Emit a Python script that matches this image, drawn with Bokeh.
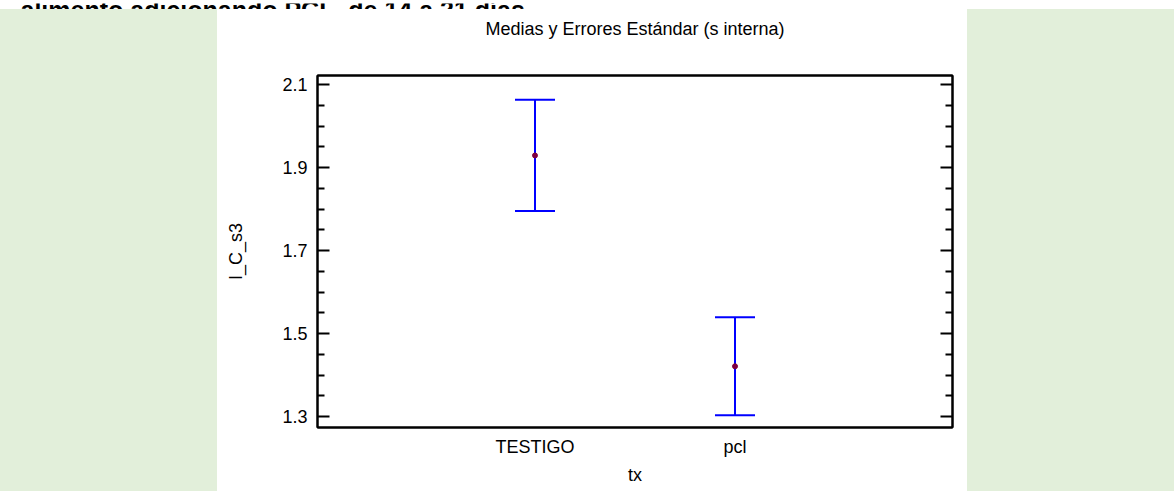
from bokeh.plotting import figure
from bokeh.layouts import row, column
from bokeh.models import (ColumnDataSource, Whisker, TeeHead, FixedTicker,
                          LinearAxis, Range1d, Div, Label,
                          CustomLabelingPolicy)
from bokeh.embed import file_html
from bokeh.resources import INLINE

# ---- data ----
categories = ["TESTIGO", "pcl"]
means = [1.929, 1.421]
std_errors = [0.134, 0.118]
y_ticks = [1.3, 1.5, 1.7, 1.9, 2.1]
y_minor_ticks = [1.35, 1.4, 1.45, 1.55, 1.6, 1.65, 1.75, 1.8, 1.85,
                 1.95, 2.0, 2.05]
title_text = "Medias y Errores Estándar (s interna)"
x_label = "tx"
y_label = "I_C_s3"
caption_text = "alimento adicionando PCL, de 14 a 21 días."

GREEN = "#E2EFDA"
FONT = "Liberation Sans"

xpos = list(range(1, len(categories) + 1))
src = ColumnDataSource(dict(
    x=xpos,
    mean=means,
    upper=[m + s for m, s in zip(means, std_errors)],
    lower=[m - s for m, s in zip(means, std_errors)],
))

H = 482

# cut-off caption strip on top (as in the reference screenshot)
strip = figure(width=1174, height=9, output_backend="svg",
               toolbar_location=None, min_border=0,
               x_axis_location=None, y_axis_location=None,
               background_fill_color="white", border_fill_color="white",
               outline_line_color=None)
strip.grid.visible = False
strip.add_layout(Label(x=20, y=3, x_units="screen", y_units="screen",
                       text=caption_text, text_font=FONT,
                       text_font_size="25px", text_font_style="bold",
                       text_color="black", text_baseline="alphabetic"))

left_panel = Div(width=217, height=H, margin=0,
                 styles={"background-color": GREEN})
right_panel = Div(width=207, height=H, margin=0,
                  styles={"background-color": GREEN})

p = figure(width=750, height=H, output_backend="svg", toolbar_location=None,
           x_range=Range1d(-0.0875, 3.0875), y_range=Range1d(1.2735, 2.1217),
           min_border_left=100, min_border_right=15, min_border_top=66,
           min_border_bottom=64,
           background_fill_color="white", border_fill_color="white",
           outline_line_color="black", outline_line_width=2)
p.grid.visible = False

yt = FixedTicker(ticks=y_ticks, minor_ticks=y_minor_ticks)

ya = p.yaxis[0]
ya.ticker = yt
ya.axis_label = y_label
ya.axis_label_text_font = FONT
ya.axis_label_text_font_size = "18px"
ya.axis_label_text_font_style = "normal"
ya.axis_label_text_color = "black"
ya.axis_label_standoff = 33
ya.major_label_text_font = FONT
ya.major_label_text_font_size = "18px"
ya.major_label_text_color = "black"
ya.major_label_standoff = 10
ya.axis_line_width = 2
ya.axis_line_color = "black"
ya.major_tick_in = 12
ya.major_tick_out = 0
ya.minor_tick_in = 7
ya.minor_tick_out = 0
ya.major_tick_line_width = 2
ya.minor_tick_line_width = 2

xa = p.xaxis[0]
xa.ticker = FixedTicker(ticks=xpos)
xa.major_label_overrides = {x: c for x, c in zip(xpos, categories)}
xa.axis_label = x_label
xa.axis_label_text_font = FONT
xa.axis_label_text_font_size = "18px"
xa.axis_label_text_font_style = "normal"
xa.axis_label_text_color = "black"
xa.axis_label_standoff = 5
xa.major_label_text_font = FONT
xa.major_label_text_font_size = "18px"
xa.major_label_text_color = "black"
xa.major_label_standoff = 9
xa.axis_line_width = 2
xa.axis_line_color = "black"
xa.major_tick_line_color = None
xa.minor_tick_line_color = None
xa.major_tick_in = 0
xa.major_tick_out = 0

# top axis carries the chart title, centred over the frame
ta = LinearAxis(ticker=FixedTicker(ticks=[]))
ta.axis_label = title_text
ta.axis_label_text_font = FONT
ta.axis_label_text_font_size = "18px"
ta.axis_label_text_font_style = "normal"
ta.axis_label_text_color = "black"
ta.axis_label_standoff = 37
ta.axis_line_width = 2
ta.axis_line_color = "black"
ta.major_tick_line_color = None
ta.minor_tick_line_color = None
ta.major_tick_in = 0
ta.major_tick_out = 0
ta.major_label_standoff = 0
p.add_layout(ta, "above")

ra = LinearAxis(ticker=yt)
ra.major_label_text_font_size = "8px"
ra.major_label_standoff = 0
ra.major_label_policy = CustomLabelingPolicy(
    code="for (const i of [...indices]) indices.unset(i); return indices;")
ra.axis_line_width = 2
ra.axis_line_color = "black"
ra.major_tick_in = 12
ra.major_tick_out = 0
ra.minor_tick_in = 7
ra.minor_tick_out = 0
ra.major_tick_line_width = 2
ra.minor_tick_line_width = 2
p.add_layout(ra, "right")

wh = Whisker(source=src, base="x", upper="upper", lower="lower",
             dimension="height", line_color="#0000FF", line_width=2,
             upper_head=TeeHead(size=40, line_color="#0000FF", line_width=2),
             lower_head=TeeHead(size=40, line_color="#0000FF", line_width=2),
             level="underlay")
p.add_layout(wh)

p.scatter("x", "mean", source=src, size=5, color="#7F003F")

layout = column(strip, row(left_panel, p, right_panel, spacing=0), spacing=0)

open("out.html", "w").write(file_html(layout, INLINE))
